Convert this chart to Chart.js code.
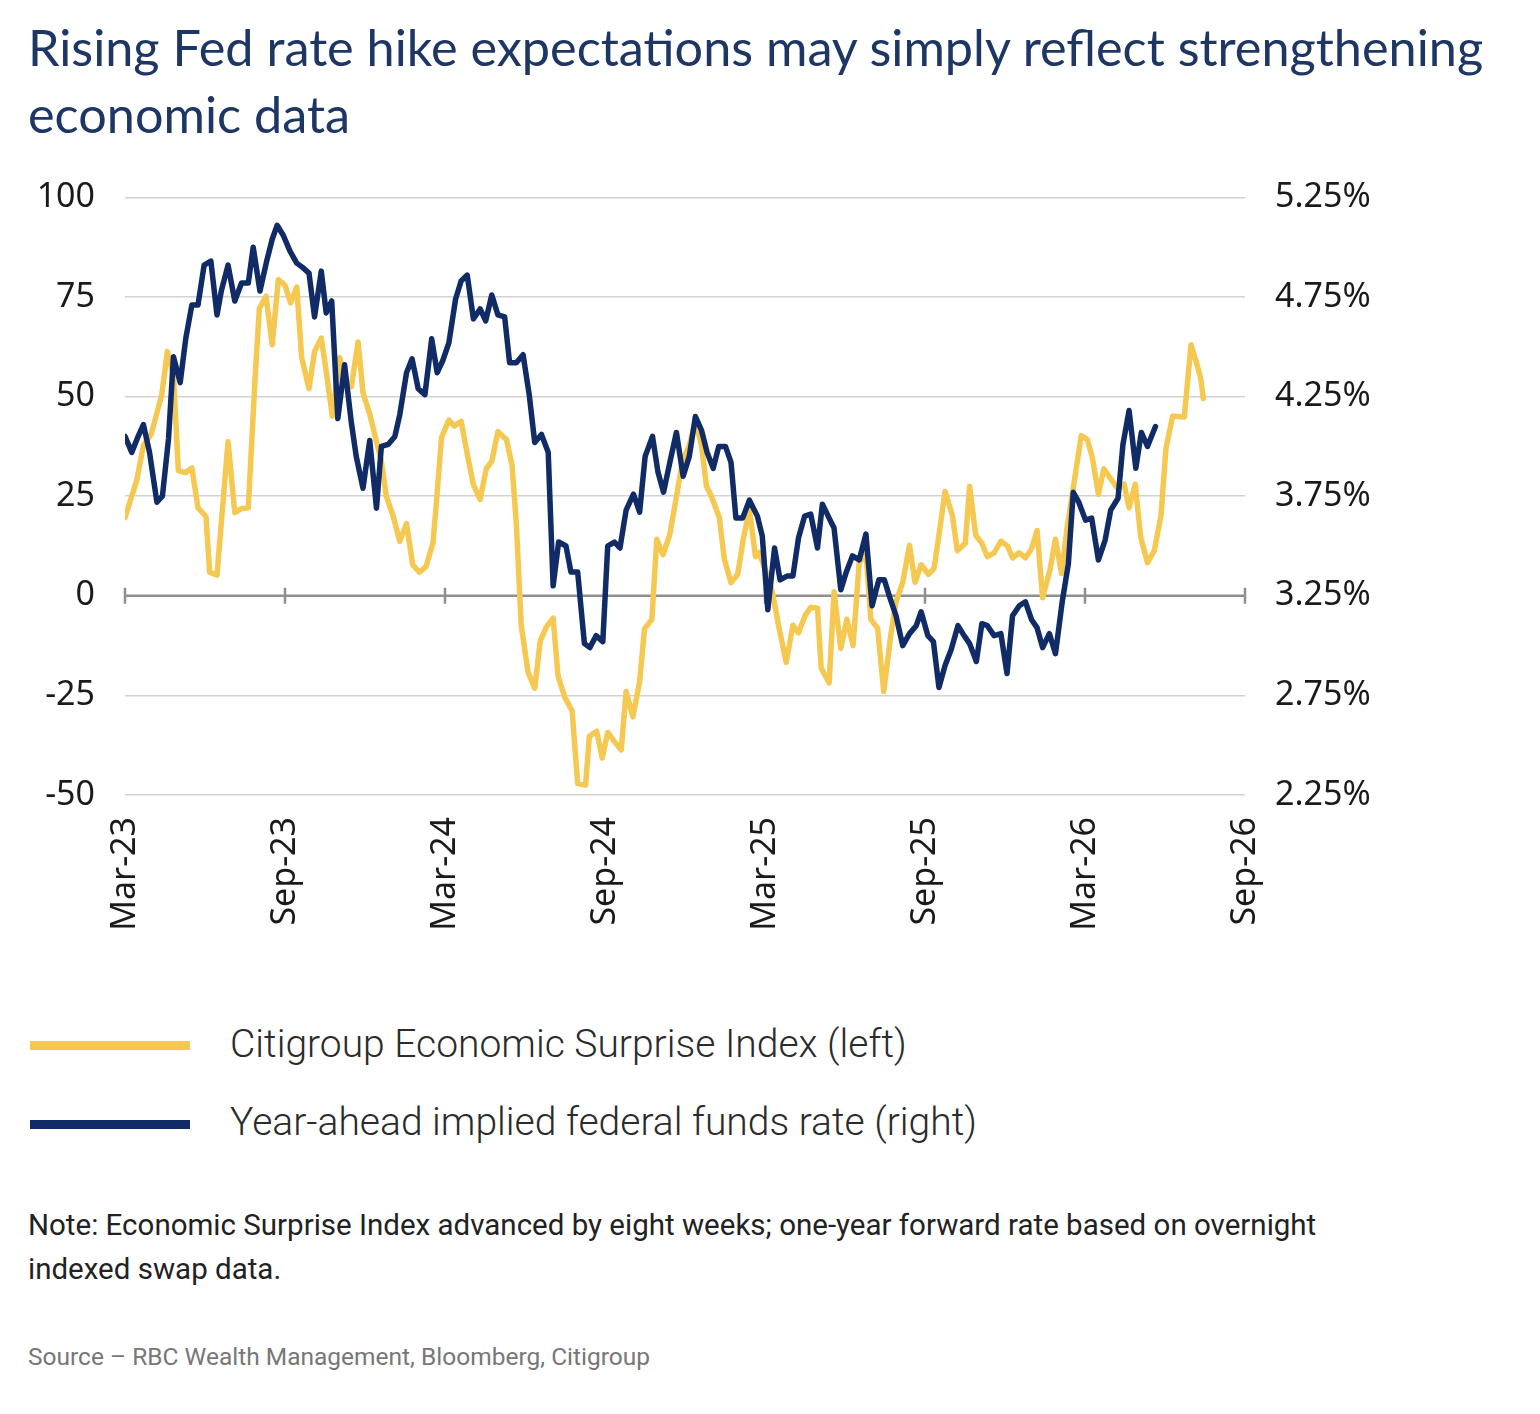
<!DOCTYPE html>
<html>
<head>
<meta charset="utf-8">
<script src="https://cdn.jsdelivr.net/npm/chart.js@4.4.1/dist/chart.umd.min.js"></script>
<style>
  html, body { margin: 0; padding: 0; background: #ffffff; }
  body { width: 1540px; height: 1414px; position: relative; overflow: hidden; }
  #title { position: absolute; left: 28px; top: 13px; font-family: Lato, "Open Sans", sans-serif; font-weight: 400; font-size: 50.4px; line-height: 67px; color: #1d3664; white-space: nowrap; }
  #chartWrap { position: absolute; left: 0; top: 147px; width: 1540px; height: 813px; }
  .leg { position: absolute; left: 30px; width: 160px; height: 9px; }
  .legText { position: absolute; left: 230px; font-family: Roboto, sans-serif; font-weight: 300; font-size: 39px; color: #2b2b2b; white-space: nowrap; }
  #note { position: absolute; left: 28px; top: 1203px; width: 1330px; font-family: Roboto, sans-serif; font-size: 29.5px; line-height: 44px; color: #222; }
  #source { position: absolute; left: 28px; top: 1342px; font-family: Roboto, sans-serif; font-size: 24.5px; color: #777; }
</style>
</head>
<body>
<div id="title">Rising Fed rate hike expectations may simply reflect strengthening<br>economic data</div>
<div id="chartWrap"><canvas id="c" width="1540" height="813"></canvas></div>
<div class="leg" style="top:1041px;background:#F5C852;"></div>
<div class="legText" style="top:1021px;">Citigroup Economic Surprise Index (left)</div>
<div class="leg" style="top:1120px;background:#102B66;"></div>
<div class="legText" style="top:1099px;">Year-ahead implied federal funds rate (right)</div>
<div id="note">Note: Economic Surprise Index advanced by eight weeks; one-year forward rate based on overnight indexed swap data.</div>
<div id="source">Source – RBC Wealth Management, Bloomberg, Citigroup</div>
<script>
// Tick labels (every 6 months, starting Mar-23)
const xTickLabels = ["Mar-23","Sep-23","Mar-24","Sep-24","Mar-25","Sep-25","Mar-26","Sep-26"];
const totalWeeks = 182.6; // Mar-23 to Sep-26

// Citigroup Economic Surprise Index (left axis), weeks since Mar-23
const cesiWeeks = [0,1.9,3.0,4.3,6.0,6.9,7.9,8.7,9.8,10.9,11.9,13.2,13.8,15.0,16.8,17.9,19.0,20.1,21.2,21.9,23.0,24.0,25.0,26.1,27.0,28.0,28.8,30.0,30.9,32.0,32.8,33.8,35.0,36.1,36.9,38.0,38.8,39.9,41.0,41.8,42.6,43.7,44.8,45.9,46.9,48.0,49.1,50.2,50.7,51.6,52.8,53.7,54.8,55.9,56.8,57.9,58.9,59.8,60.8,62.2,63.1,63.8,64.6,65.7,66.8,67.7,68.7,69.8,70.6,71.7,72.9,73.8,75.1,75.7,76.9,77.8,78.7,79.8,80.9,81.7,82.8,83.9,84.7,85.9,86.7,87.7,88.8,89.8,90.9,92.0,93.0,94.0,94.8,95.6,96.9,97.7,98.8,99.9,100.8,101.8,102.8,103.4,105.1,105.6,106.6,107.8,108.9,109.8,110.9,111.8,112.9,113.5,114.8,115.6,116.7,117.7,118.7,119.7,120.8,121.6,122.7,123.7,124.9,125.7,126.8,127.9,128.8,129.8,131.0,131.9,132.7,133.7,134.9,135.7,137.0,137.7,138.7,139.7,140.6,141.7,142.8,143.9,144.7,145.8,146.8,147.8,148.7,149.6,150.8,151.7,152.7,153.6,154.6,155.9,156.9,157.7,158.7,159.6,160.7,161.8,162.9,163.7,164.7,165.6,166.7,167.8,168.9,169.7,170.8,172.7,173.8,174.9,175.4,175.8];
const cesiValues = [19.6,28.9,37.7,40.7,50.5,61.3,55.4,31.4,30.9,32.1,22.1,19.9,5.9,5.2,38.7,20.9,21.9,22.1,54.4,72.1,75.2,63.0,79.4,77.9,73.5,77.5,59.8,52.0,61.3,64.7,56.4,45.1,59.8,53.0,52.5,63.7,51.0,45.6,38.7,33.8,25.0,20.1,13.7,18.1,7.8,5.9,7.4,13.2,22.1,39.7,44.1,42.6,43.8,34.8,27.9,24.2,31.9,33.8,41.2,39.2,32.8,18.1,-7.4,-19.1,-23.2,-11.3,-7.8,-5.6,-20.1,-25.5,-28.9,-47.1,-47.5,-35.3,-34.0,-40.7,-34.3,-36.6,-38.7,-24.0,-30.4,-21.6,-8.3,-5.9,14.2,10.3,15.2,24.0,33.8,37.7,44.0,37.7,27.5,25.0,19.6,9.3,3.3,5.4,14.2,21.6,9.8,10.8,3.4,0.5,-7.8,-16.7,-7.4,-9.3,-4.9,-2.9,-3.1,-18.1,-21.9,1.0,-13.2,-5.9,-12.5,8.3,10.8,-5.9,-8.1,-24.0,-9.3,-1.5,3.4,12.7,3.4,7.8,5.4,6.9,15.2,26.2,20.1,11.3,13.2,27.5,15.2,13.2,9.8,10.8,13.7,12.5,9.5,10.8,9.5,11.8,16.4,-0.5,6.4,14.2,5.6,17.2,27.0,40.2,39.2,34.8,25.5,31.9,29.4,27.0,28.0,22.1,28.0,14.7,8.3,11.3,20.1,36.8,45.1,44.9,63.0,57.4,54.4,49.5];

// Year-ahead implied federal funds rate (right axis, %), weeks since Mar-23
const rateWeeks = [0,1.1,2.0,3.0,4.0,5.2,6.1,7.1,7.9,9.0,9.9,10.9,11.9,12.9,14.0,15.0,15.7,16.8,17.9,19.0,20.1,20.9,22.0,23.1,24.0,24.8,25.8,26.9,28.0,28.9,30.0,30.9,32.0,32.8,33.7,34.7,35.8,36.9,37.7,38.8,39.9,41.0,41.8,42.9,44.0,44.8,45.9,46.8,47.8,48.9,50.0,50.9,51.8,52.8,53.9,54.8,55.8,56.8,57.9,58.8,59.8,60.8,61.9,62.7,63.8,64.9,65.9,66.8,67.9,69.0,69.8,70.7,71.9,72.7,73.8,74.9,75.8,76.8,77.9,78.7,79.8,80.7,81.7,82.9,83.9,84.8,86.0,86.9,87.8,88.9,89.9,91.0,92.0,93.0,94.0,94.9,95.9,96.8,97.9,98.8,99.6,100.7,101.8,103.1,103.9,104.8,105.9,106.8,108.0,108.9,109.8,110.8,111.8,112.9,113.7,114.8,115.6,116.7,117.6,118.6,119.7,120.8,121.8,122.9,123.8,124.6,125.7,126.8,127.9,129.0,129.8,130.9,131.8,132.7,133.7,134.7,135.8,136.8,137.7,138.8,139.7,140.6,141.7,142.8,143.8,144.7,145.8,146.8,147.8,148.7,149.6,150.7,151.7,152.8,153.8,154.6,155.5,156.6,157.6,158.7,159.8,160.7,161.9,162.7,163.7,164.8,165.7,166.7,168.0];
const rateValues = [4.05,3.97,4.04,4.11,3.97,3.72,3.75,4.04,4.45,4.32,4.54,4.71,4.71,4.91,4.93,4.66,4.78,4.91,4.73,4.82,4.82,5.00,4.78,4.93,5.04,5.11,5.06,4.98,4.92,4.90,4.87,4.65,4.88,4.67,4.73,4.14,4.41,4.12,3.95,3.79,4.03,3.69,4.00,4.01,4.05,4.16,4.37,4.44,4.29,4.26,4.54,4.37,4.43,4.52,4.74,4.83,4.86,4.64,4.69,4.63,4.76,4.66,4.65,4.42,4.42,4.46,4.26,4.02,4.06,3.97,3.30,3.52,3.50,3.37,3.37,3.01,2.99,3.05,3.02,3.50,3.52,3.49,3.68,3.76,3.67,3.95,4.05,3.87,3.77,3.93,4.07,3.85,3.95,4.15,4.08,3.97,3.89,4.00,4.00,3.92,3.64,3.64,3.73,3.65,3.55,3.18,3.49,3.33,3.35,3.35,3.54,3.65,3.66,3.49,3.71,3.64,3.59,3.28,3.37,3.45,3.43,3.56,3.20,3.33,3.33,3.25,3.15,3.00,3.06,3.10,3.17,3.05,3.02,2.79,2.90,2.98,3.10,3.05,3.01,2.92,3.11,3.10,3.05,3.06,2.86,3.15,3.20,3.22,3.13,3.09,2.99,3.06,2.96,3.22,3.41,3.77,3.72,3.63,3.64,3.43,3.53,3.68,3.74,4.01,4.18,3.89,4.07,4.00,4.10];

const cesiData = cesiWeeks.map((w, i) => ({ x: w, y: cesiValues[i] }));
const rateData = rateWeeks.map((w, i) => ({ x: w, y: rateValues[i] }));

const tickFont = { family: '"Noto Sans", "Open Sans", sans-serif', size: 34, weight: '400' };

const zeroAxisPlugin = {
  id: 'zeroAxis',
  beforeDatasetsDraw(chart) {
    const ctx = chart.ctx, xs = chart.scales.x, ys = chart.scales.y;
    const y0 = ys.getPixelForValue(0);
    ctx.save();
    ctx.strokeStyle = '#8f8f8f';
    ctx.lineWidth = 2.5;
    ctx.beginPath();
    ctx.moveTo(chart.chartArea.left, y0);
    ctx.lineTo(chart.chartArea.right, y0);
    xs.ticks.forEach(t => {
      const px = xs.getPixelForValue(t.value);
      ctx.moveTo(px, y0 - 8);
      ctx.lineTo(px, y0 + 8);
    });
    ctx.stroke();
    ctx.restore();
  }
};

new Chart(document.getElementById('c'), {
  type: 'line',
  data: {
    datasets: [
      { label: 'Citigroup Economic Surprise Index (left)', data: cesiData, yAxisID: 'y', borderColor: '#F5C852', borderWidth: 5.5, pointRadius: 0, tension: 0, borderJoinStyle: 'round', borderCapStyle: 'round', order: 2 },
      { label: 'Year-ahead implied federal funds rate (right)', data: rateData, yAxisID: 'y2', borderColor: '#102B66', borderWidth: 5.5, pointRadius: 0, tension: 0, borderJoinStyle: 'round', borderCapStyle: 'round', order: 1 }
    ]
  },
  options: {
    responsive: false,
    animation: false,
    devicePixelRatio: 1,
    layout: { padding: { top: 26, left: 0, right: 0, bottom: 0 } },
    plugins: { legend: { display: false }, tooltip: { enabled: false } },
    scales: {
      x: {
        type: 'linear', min: 0, max: totalWeeks,
        afterBuildTicks: (s) => { s.ticks = xTickLabels.map((_, i) => ({ value: i * totalWeeks / (xTickLabels.length - 1) })); },
        afterFit: (s) => { s.height = 165; },
        grid: { display: false, drawTicks: false },
        border: { display: false },
        ticks: { autoSkip: false, maxRotation: 90, minRotation: 90, padding: 22, color: '#1a1a1a', font: tickFont,
          callback: (v, i) => xTickLabels[i] }
      },
      y: {
        position: 'left', min: -50, max: 100,
        afterFit: (s) => { s.width = 125; },
        grid: { drawTicks: false, lineWidth: 1.5, color: (c) => c.tick && c.tick.value === 0 ? 'rgba(0,0,0,0)' : '#d2d2d2' },
        border: { display: false },
        ticks: { stepSize: 25, padding: 30, color: '#1a1a1a', font: tickFont }
      },
      y2: {
        position: 'right', min: 2.25, max: 5.25,
        afterFit: (s) => { s.width = 295; },
        grid: { drawOnChartArea: false, drawTicks: false },
        border: { display: false },
        ticks: { stepSize: 0.5, padding: 30, color: '#1a1a1a', font: tickFont, callback: (v) => v.toFixed(2) + '%' }
      }
    }
  },
  plugins: [zeroAxisPlugin]
});
</script>
</body>
</html>
